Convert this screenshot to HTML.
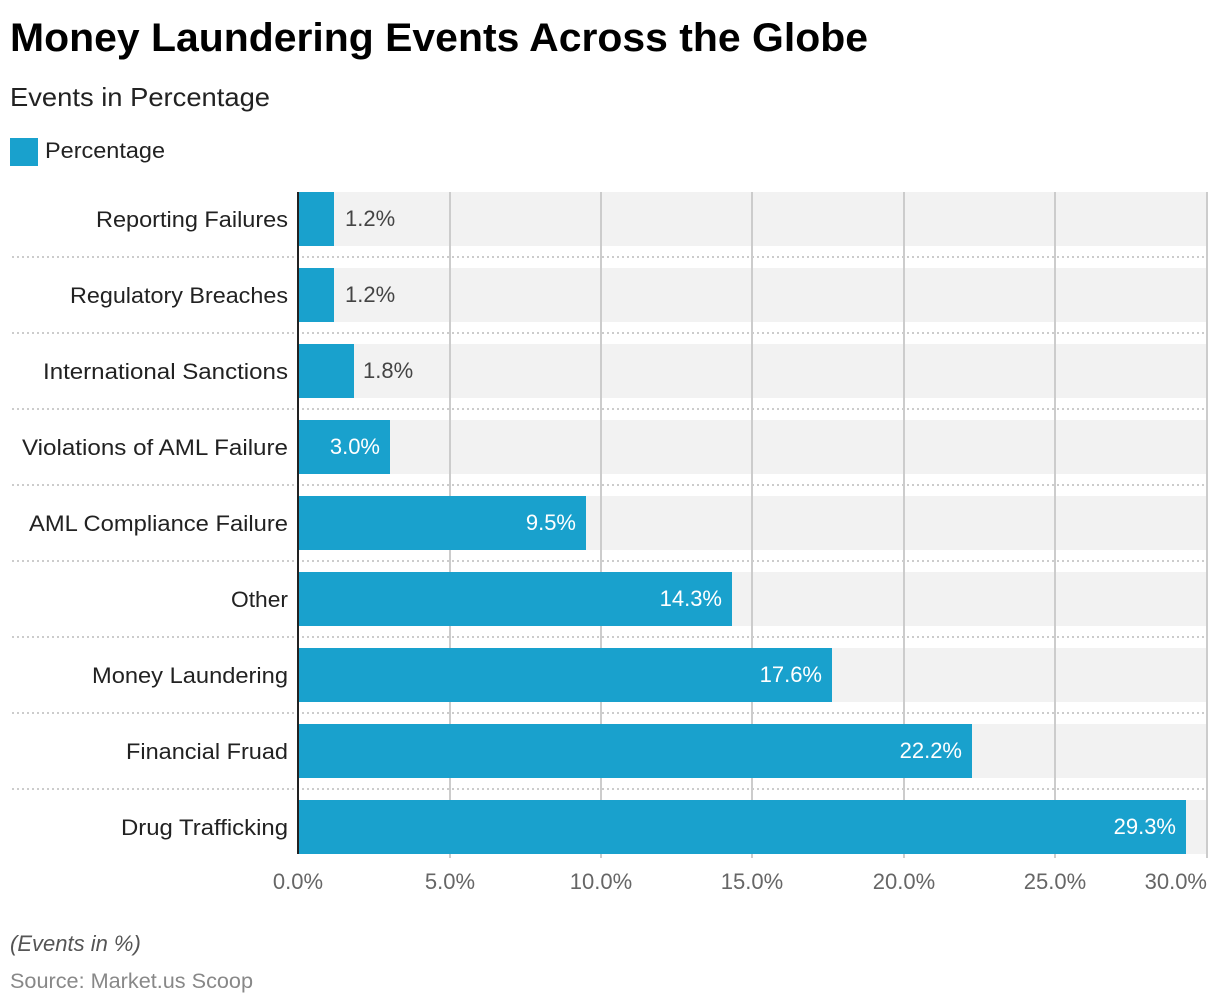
<!DOCTYPE html>
<html><head><meta charset="utf-8"><style>
html,body{margin:0;padding:0;background:#fff;}
svg{display:block;font-family:"Liberation Sans",Arial,sans-serif;}
</style></head><body>
<svg width="1220" height="1006" viewBox="0 0 1220 1006" xmlns="http://www.w3.org/2000/svg">
<text x="10" y="51" font-size="40" font-weight="bold" fill="#000" textLength="858" lengthAdjust="spacingAndGlyphs">Money Laundering Events Across the Globe</text>
<text x="10" y="106" font-size="26" fill="#222" textLength="260" lengthAdjust="spacingAndGlyphs">Events in Percentage</text>
<rect x="10" y="138" width="28" height="28" fill="#19a1cd"/>
<text x="45" y="158" font-size="22" fill="#222" textLength="120" lengthAdjust="spacingAndGlyphs">Percentage</text>
<g fill="#f2f2f2">
<rect x="298" y="192" width="909" height="54"/><rect x="298" y="268" width="909" height="54"/><rect x="298" y="344" width="909" height="54"/><rect x="298" y="420" width="909" height="54"/><rect x="298" y="496" width="909" height="54"/><rect x="298" y="572" width="909" height="54"/><rect x="298" y="648" width="909" height="54"/><rect x="298" y="724" width="909" height="54"/><rect x="298" y="800" width="909" height="54"/>
</g>
<g stroke="#ccc" stroke-width="2" stroke-dasharray="2,3">
<line x1="12" x2="1207" y1="257" y2="257"/><line x1="12" x2="1207" y1="333" y2="333"/><line x1="12" x2="1207" y1="409" y2="409"/><line x1="12" x2="1207" y1="485" y2="485"/><line x1="12" x2="1207" y1="561" y2="561"/><line x1="12" x2="1207" y1="637" y2="637"/><line x1="12" x2="1207" y1="713" y2="713"/><line x1="12" x2="1207" y1="789" y2="789"/>
</g>
<g stroke="#ccc" stroke-width="2">
<line x1="450" x2="450" y1="192" y2="858"/><line x1="601" x2="601" y1="192" y2="858"/><line x1="752" x2="752" y1="192" y2="858"/><line x1="904" x2="904" y1="192" y2="858"/><line x1="1055" x2="1055" y1="192" y2="858"/><line x1="1207" x2="1207" y1="192" y2="858"/>
</g>
<g fill="#19a1cd">
<rect x="298" y="192" width="36" height="54"/><rect x="298" y="268" width="36" height="54"/><rect x="298" y="344" width="56" height="54"/><rect x="298" y="420" width="92" height="54"/><rect x="298" y="496" width="288" height="54"/><rect x="298" y="572" width="434" height="54"/><rect x="298" y="648" width="534" height="54"/><rect x="298" y="724" width="674" height="54"/><rect x="298" y="800" width="888" height="54"/>
</g>
<line x1="298" x2="298" y1="192" y2="854" stroke="#222" stroke-width="2"/>
<g font-size="22" fill="#222" text-anchor="end" lengthAdjust="spacingAndGlyphs">
<text x="288" y="227" textLength="192" lengthAdjust="spacingAndGlyphs">Reporting Failures</text>
<text x="288" y="303" textLength="218" lengthAdjust="spacingAndGlyphs">Regulatory Breaches</text>
<text x="288" y="379" textLength="245" lengthAdjust="spacingAndGlyphs">International Sanctions</text>
<text x="288" y="455" textLength="266" lengthAdjust="spacingAndGlyphs">Violations of AML Failure</text>
<text x="288" y="531" textLength="259" lengthAdjust="spacingAndGlyphs">AML Compliance Failure</text>
<text x="288" y="607" textLength="57" lengthAdjust="spacingAndGlyphs">Other</text>
<text x="288" y="683" textLength="196" lengthAdjust="spacingAndGlyphs">Money Laundering</text>
<text x="288" y="759" textLength="162" lengthAdjust="spacingAndGlyphs">Financial Fruad</text>
<text x="288" y="835" textLength="167" lengthAdjust="spacingAndGlyphs">Drug Trafficking</text>
</g>
<g font-size="22" fill="#444">
<text x="345" y="226">1.2%</text>
<text x="345" y="302">1.2%</text>
<text x="363" y="378">1.8%</text>
</g>
<g font-size="22" fill="#fff" text-anchor="end">
<text x="380" y="454">3.0%</text>
<text x="576" y="530">9.5%</text>
<text x="722" y="606">14.3%</text>
<text x="822" y="682">17.6%</text>
<text x="962" y="758">22.2%</text>
<text x="1176" y="834">29.3%</text>
</g>
<g font-size="22" fill="#666" text-anchor="middle">
<text x="298" y="889">0.0%</text><text x="450" y="889">5.0%</text><text x="601" y="889">10.0%</text><text x="752" y="889">15.0%</text><text x="904" y="889">20.0%</text><text x="1055" y="889">25.0%</text><text x="1207" y="889" text-anchor="end">30.0%</text>
</g>
<text x="10" y="951" font-size="22" font-style="italic" fill="#555">(Events in %)</text>
<text x="10" y="988" font-size="21" fill="#888" textLength="243" lengthAdjust="spacingAndGlyphs">Source: Market.us Scoop</text>
</svg>
</body></html>
